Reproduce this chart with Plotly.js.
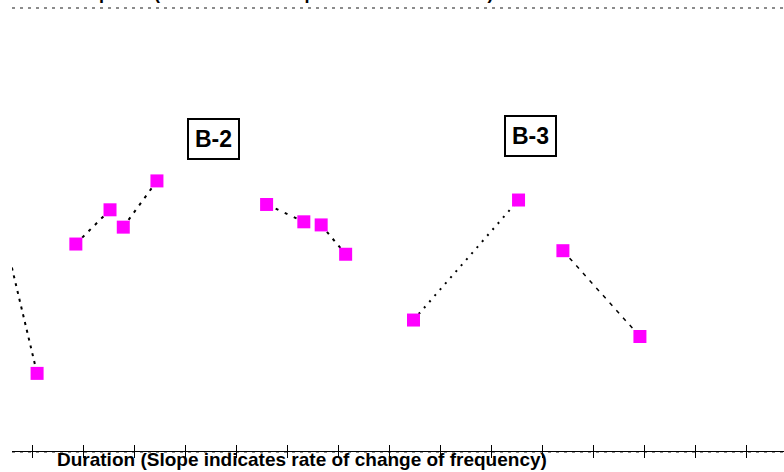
<!DOCTYPE html>
<html>
<head>
<meta charset="utf-8">
<script src="https://cdn.plot.ly/plotly-3.0.1.min.js"></script>
<style>html,body{margin:0;padding:0;background:#fff;}#chart{width:784px;height:472px;}</style>
</head>
<body>
<div id="chart"></div>
<script>
// Each chirp: onset (time, freq) -> end (time, freq)
const chirpStartT = [-0.55, 0.85, 1.78, 4.59, 5.66, 7.47, 10.40];
const chirpStartF = [48.6, 46.9, 50.7, 55.8, 51.2, 29.8, 45.4];
const chirpEndT   = [0.09, 1.52, 2.44, 5.32, 6.14, 9.53, 11.91];
const chirpEndF   = [17.8, 54.6, 61.1, 51.9, 44.6, 56.8, 26.1];
const groupLabels = ['B-2', 'B-3'];
const xTitle = 'Duration (Slope indicates rate of change of frequency)';
const chartTitle = 'Chirp Plot (Each mark = chirp onset or offset time)';

// styles (kept apart from data)
const dashStyles = ['3px,5px', '3px,6px', '3px,6px', '3px,7px', '3px,6px', '2px,6px', '4px,6px'];
const lineWidths = [2, 2, 2, 2, 2, 2, 1.5];

const traces = chirpStartT.map((t, i) => ({
  type: 'scatter',
  mode: 'lines+markers',
  x: [t, chirpEndT[i]],
  y: [chirpStartF[i], chirpEndF[i]],
  xaxis: i >= 5 ? 'x2' : 'x',
  line: {color: '#000', width: lineWidths[i], dash: dashStyles[i]},
  marker: {symbol: 'square', size: 13, color: '#ff00ff', line: {width: 0}},
  showlegend: false,
  hoverinfo: 'x+y'
}));

const xr = [-0.402, 14.735];
const axPos = 0.0089;
const layout = {
  width: 784, height: 472,
  margin: {l: 12, r: 0, t: 6, b: 17},
  paper_bgcolor: '#fff', plot_bgcolor: '#fff',
  showlegend: false,
  xaxis: {
    anchor: 'free', position: axPos,
    range: xr, tick0: 0, dtick: 1, ticks: 'outside', ticklen: 6, tickwidth: 1, tickcolor: '#000',
    showticklabels: false, showgrid: false, zeroline: false,
    showline: true, linecolor: '#000', linewidth: 1
  },
  xaxis2: {
    overlaying: 'x', anchor: 'free', position: axPos, side: 'bottom',
    range: xr, tick0: 0, dtick: 1, ticks: 'inside', ticklen: 6, tickwidth: 1, tickcolor: '#000',
    showticklabels: false, showgrid: false, zeroline: false, showline: false
  },
  yaxis: {
    range: [-0.562, 100.45], tickvals: [0, 100], showticklabels: false, ticks: '',
    showgrid: true, gridcolor: '#8c8c8c', gridwidth: 1.2, griddash: '3px,5px',
    zeroline: false, showline: false
  },
  annotations: [
    {x: 3.54, y: 70.5, xref: 'x', yref: 'y', text: '<b>' + groupLabels[0] + '</b>', showarrow: false,
     font: {family: 'Liberation Sans, Arial, sans-serif', size: 23, color: '#000'},
     bordercolor: '#000', borderwidth: 2, borderpad: 6, bgcolor: '#fff'},
    {x: 9.755, y: 71.2, xref: 'x', yref: 'y', text: '<b>' + groupLabels[1] + '</b>', showarrow: false,
     font: {family: 'Liberation Sans, Arial, sans-serif', size: 23, color: '#000'},
     bordercolor: '#000', borderwidth: 2, borderpad: 6, bgcolor: '#fff'},
    {x: 0.376, y: 0, xref: 'paper', yref: 'paper', xanchor: 'center', yanchor: 'top', yshift: 8,
     text: '<b>' + xTitle + '</b>', showarrow: false,
     font: {family: 'Liberation Sans, Arial, sans-serif', size: 19, color: '#000'}},
    {x: 0.064, y: 1, xref: 'paper', yref: 'paper', xanchor: 'left', yanchor: 'bottom', yshift: 0.5,
     text: '<b>' + chartTitle + '</b>', showarrow: false,
     font: {family: 'Liberation Sans, Arial, sans-serif', size: 18, color: '#000'}}
  ]
};

Plotly.newPlot('chart', traces, layout, {displayModeBar: false, staticPlot: true});
</script>
</body>
</html>
